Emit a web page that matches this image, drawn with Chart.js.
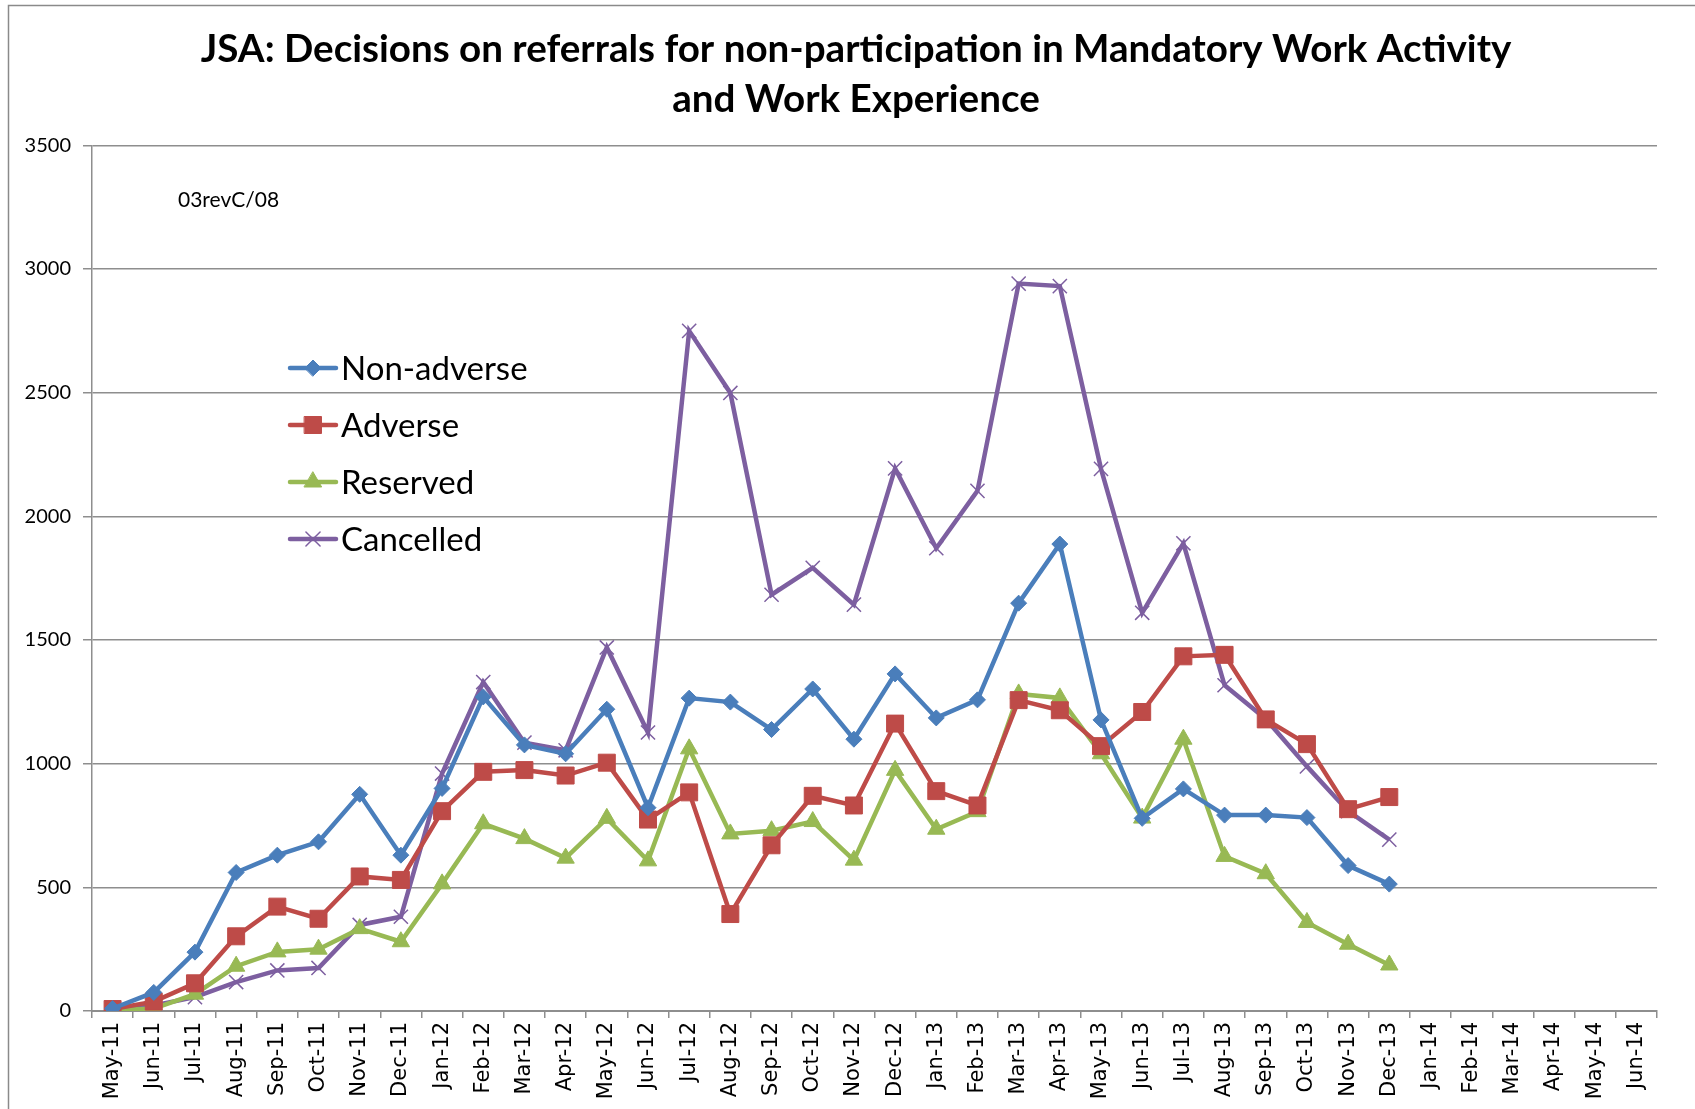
<!DOCTYPE html>
<html>
<head>
<meta charset="utf-8">
<title>JSA decisions on referrals</title>
<script src="https://cdn.jsdelivr.net/npm/chart.js@4/dist/chart.umd.min.js"></script>
<style>
  html, body { margin: 0; padding: 0; background: #fff; }
  #wrap { width: 1695px; height: 1109px; }
</style>
</head>
<body>
<div id="wrap"><canvas id="jsaChart" width="1695" height="1109"></canvas></div>
<script>
// months on the x axis (May-11 .. Jun-14)
const months = ['May-11','Jun-11','Jul-11','Aug-11','Sep-11','Oct-11','Nov-11','Dec-11',
  'Jan-12','Feb-12','Mar-12','Apr-12','May-12','Jun-12','Jul-12','Aug-12','Sep-12','Oct-12','Nov-12','Dec-12',
  'Jan-13','Feb-13','Mar-13','Apr-13','May-13','Jun-13','Jul-13','Aug-13','Sep-13','Oct-13','Nov-13','Dec-13',
  'Jan-14','Feb-14','Mar-14','Apr-14','May-14','Jun-14'];

// values (data stops at Dec-13)
const nonAdverse = [10, 75, 238, 560, 630, 684, 876, 630, 900, 1270, 1076, 1040, 1220, 822,
  1265, 1249, 1138, 1302, 1099, 1363, 1185, 1258, 1649, 1888, 1177, 779, 898, 792, 792, 782, 588, 513];
const adverse = [8, 38, 112, 302, 422, 373, 544, 530, 808, 967, 974, 952, 1004, 774,
  884, 392, 670, 870, 831, 1162, 889, 831, 1257, 1216, 1071, 1209, 1434, 1440, 1179, 1079, 816, 865];
const reserved = [2, 10, 68, 181, 239, 250, 333, 280, 514, 757, 697, 618, 779, 607,
  1060, 716, 729, 766, 610, 973, 735, 806, 1282, 1266, 1040, 780, 1099, 625, 555, 358, 270, 186];
const cancelled = [2, 22, 56, 117, 164, 174, 348, 381, 960, 1330, 1085, 1054, 1470, 1126,
  2750, 2499, 1683, 1792, 1643, 2194, 1871, 2103, 2941, 2931, 2192, 1610, 1891, 1317, 1181, 989, 808, 693];

const seriesNames = ['Non-adverse', 'Adverse', 'Reserved', 'Cancelled'];
const seriesColors = ['#4a7ebb', '#be4b48', '#98b954', '#7d5fa0'];

const yMax = 3500;
const yStep = 500;

const gridColor = '#8e8e8e';

// outer frame, the "03revC/08" note and the floating legend
const extrasPlugin = {
  id: 'extras',
  afterLayout(chart) {
    // the original title sits a bit right of centre
    if (chart.titleBlock) chart.titleBlock.left += 45;
  },
  beforeDraw(chart) {
    const c = chart.ctx;
    c.save();
    c.fillStyle = '#fff';
    c.fillRect(0, 0, chart.width, chart.height);
    c.strokeStyle = '#8a8a8a';
    c.lineWidth = 1.5;
    c.beginPath();
    c.moveTo(8.5, chart.height + 2);
    c.lineTo(8.5, 5.5);
    c.lineTo(chart.width + 2, 5.5);
    c.stroke();
    c.restore();
  },
  afterDraw(chart) {
    const c = chart.ctx;
    c.save();
    c.fillStyle = '#000';
    c.font = '21px Lato';
    c.textBaseline = 'alphabetic';
    c.fillText('03revC/08', 178, 207);

    chart.data.datasets.forEach((ds, i) => {
      const y = 368 + i * 57;
      c.strokeStyle = ds.borderColor;
      c.lineWidth = 4.5;
      c.lineCap = 'round';
      c.beginPath();
      c.moveTo(290, y);
      c.lineTo(336, y);
      c.stroke();
      c.fillStyle = ds.pointBackgroundColor;
      c.strokeStyle = ds.pointBorderColor;
      c.lineWidth = ds.pointBorderWidth;
      Chart.helpers.drawPoint(c, { pointStyle: ds.pointStyle, radius: ds.pointRadius, borderWidth: ds.pointBorderWidth }, 313, y);
      c.fillStyle = '#000';
      c.font = '33px Lato';
      c.textBaseline = 'middle';
      c.fillText(ds.label, 341, y + 1);
    });
    c.restore();
  }
};

const ctx = document.getElementById('jsaChart').getContext('2d');

function makeSet(i, values, style, radius, borderW) {
  const col = seriesColors[i];
  return {
    label: seriesNames[i],
    data: values,
    borderColor: col,
    backgroundColor: col,
    borderWidth: 4.5,
    pointStyle: style,
    pointRadius: radius,
    pointHoverRadius: radius,
    pointBackgroundColor: col,
    pointBorderColor: col,
    pointBorderWidth: borderW,
    tension: 0,
    fill: false
  };
}

const jsaChart = new Chart(ctx, {
  type: 'line',
  data: {
    labels: months,
    datasets: [
      makeSet(0, nonAdverse, 'rectRot', 8, 1),
      makeSet(1, adverse, 'rect', 12, 1),
      makeSet(2, reserved, 'triangle', 10, 1),
      makeSet(3, cancelled, 'crossRot', 10, 1.5)
    ]
  },
  plugins: [extrasPlugin],
  options: {
    responsive: false,
    devicePixelRatio: 1,
    animation: false,
    layout: { padding: { left: 10, right: 38, top: 0, bottom: 0 } },
    plugins: {
      legend: { display: false },
      tooltip: { enabled: false },
      title: {
        display: true,
        text: ['JSA: Decisions on referrals for non-participation in Mandatory Work Activity',
               'and Work Experience'],
        color: '#000',
        font: { family: 'Lato', size: 38.6, weight: 'bold', lineHeight: 1.3 },
        padding: { top: 24, bottom: 21 }
      }
    },
    scales: {
      x: {
        offset: true,
        grid: {
          offset: true,
          drawOnChartArea: false,
          drawTicks: true,
          tickLength: 7,
          color: gridColor,
          lineWidth: 1.5
        },
        border: { color: gridColor, width: 2 },
        ticks: {
          autoSkip: false,
          minRotation: 90,
          maxRotation: 90,
          padding: 4,
          color: '#000',
          font: { family: 'DejaVu Sans', size: 21 }
        },
        afterFit(scale) { scale.height = 98; }
      },
      y: {
        min: 0,
        max: yMax,
        ticks: {
          stepSize: yStep,
          padding: 12,
          color: '#000',
          font: { family: 'Lato', size: 20 },
          callback: (v) => String(v)
        },
        grid: {
          color: gridColor,
          lineWidth: 1.5,
          tickLength: 9
        },
        border: { color: gridColor, width: 1.5 },
        afterFit(scale) { scale.width = 82; }
      }
    }
  }
});
</script>
</body>
</html>
